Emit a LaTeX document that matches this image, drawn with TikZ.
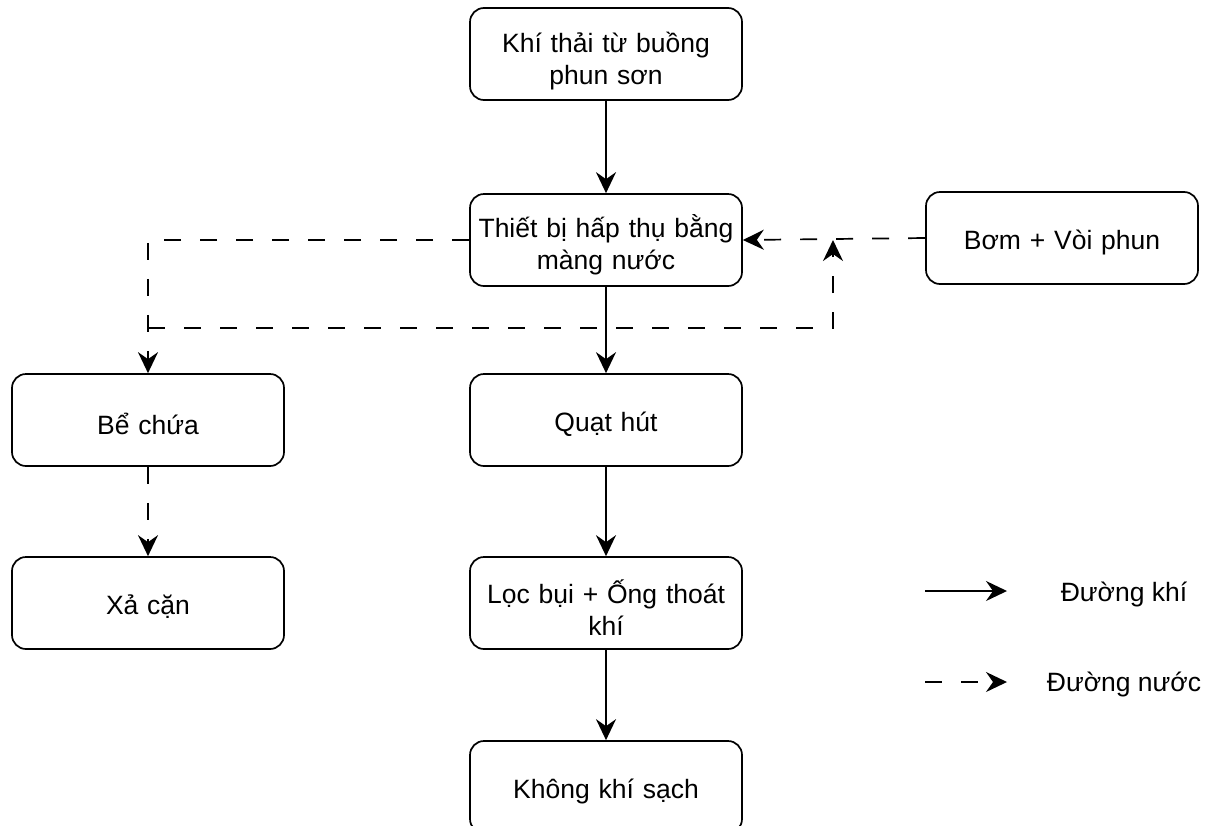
\documentclass[tikz,border=0pt]{standalone}
\usepackage{fontspec}
\setmainfont{Liberation Sans}
\usetikzlibrary{arrows.meta}

\begin{document}
\begin{tikzpicture}[x=1pt,y=-1pt,
  box/.style={draw, line width=1.7pt, rounded corners=14pt,
    minimum width=272pt, minimum height=92pt, inner sep=0pt},
  lbl/.style={align=center, text width=262pt,
    font=\fontsize{26.5}{32}\selectfont, inner sep=0pt},
  gas/.style={line width=1.7pt, -{Stealth[length=21pt,width=20pt,inset=7pt]}},
  waterline/.style={line width=1.7pt, dash pattern=on 17pt off 19pt},
  water/.style={waterline, -{Stealth[length=21pt,width=20pt,inset=7pt]}},
  legendtext/.style={font=\fontsize{26.5}{32}\selectfont, anchor=center}]

\useasboundingbox (0,0) rectangle (1222,825);
\clip (0,0) rectangle (1222,825);

% process boxes
\node[box] (src)    at (606,54)  {};
\node[box] (abs)    at (606,240) {};
\node[box] (pump)   at (1062,238) {};
\node[box] (tank)   at (148,420) {};
\node[box] (fan)    at (606,420) {};
\node[box] (sludge) at (148,603) {};
\node[box] (filt)   at (606,603) {};
\node[box] (clean)  at (606,787) {};

% box captions, set a little below the geometric centre
\node[lbl] (srcT)    at ([yshift=-7pt]src.center)    {Khí thải từ buồng\\phun sơn};
\node[lbl] (absT)    at ([yshift=-5pt]abs.center)    {Thiết bị hấp thụ bằng\\màng nước};
\node[lbl] (pumpT)   at ([yshift=-4pt]pump.center)   {Bơm + Vòi phun};
\node[lbl] (tankT)   at ([yshift=-4pt]tank.center)   {Bể chứa};
\node[lbl] (fanT)    at ([yshift=-4pt]fan.center)    {Quạt hút};
\node[lbl] (sludgeT) at ([yshift=-4pt]sludge.center) {Xả cặn};
\node[lbl] (filtT)   at ([yshift=-5pt]filt.center)   {Lọc bụi + Ống thoát\\khí};
\node[lbl] (cleanT)  at ([yshift=-4pt]clean.center)  {Không khí sạch};

% air path
\draw[gas] (src) -- (abs);
\draw[gas] (abs) -- (fan);
\draw[gas] (fan) -- (filt);
\draw[gas] (filt) -- (clean);

% water path
\coordinate (ret) at (148,328);
\coordinate (mix) at (833,240);
\draw[water] (abs.west) -| (tank.north);
\draw[water] (ret) -| (mix);
\draw[water] (pump.west) -- (abs.east);
\draw[water] (tank) -- (sludge);

% legend
\coordinate (la1) at (925,591);
\coordinate (la2) at (1007,591);
\coordinate (lw1) at (925,682);
\coordinate (lw2) at (1007,682);
\draw[gas] (la1) -- (la2);
\draw[water] (lw1) -- (lw2);
\node[legendtext] (lgas) at (1124,594) {Đường khí};
\node[legendtext] (lwat) at (1124,684) {Đường nước};
\end{tikzpicture}
\end{document}
